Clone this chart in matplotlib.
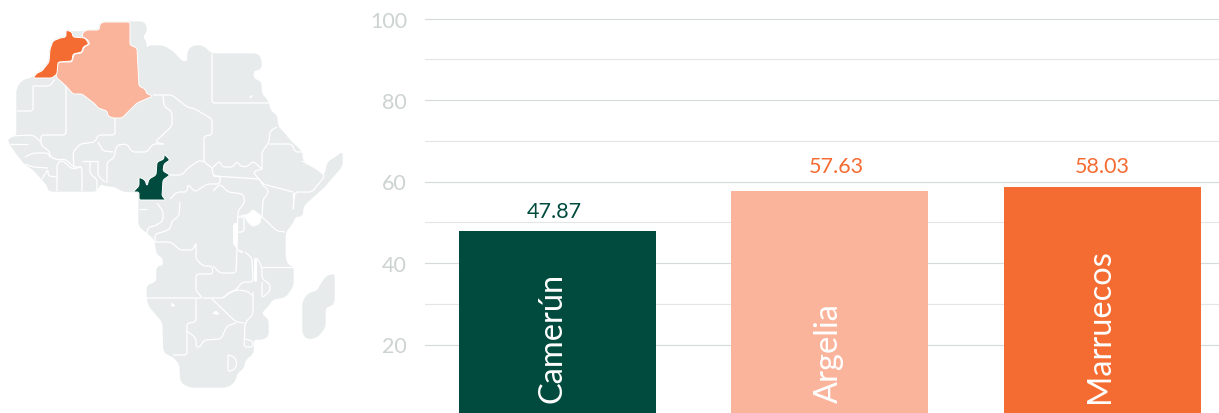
#!/usr/bin/env python3
# -*- coding: utf-8 -*-
import matplotlib
matplotlib.use("Agg")
import matplotlib.pyplot as plt
import numpy as np
from matplotlib.patches import PathPatch
from matplotlib.path import Path

# Bars, heights, labels as printed
countries = ["Camerún", "Argelia", "Marruecos"]
values = [47.8, 57.75, 58.75]
value_labels = ["47.87", "57.63", "58.03"]
major_ticks = [20, 40, 60, 80, 100]
minor_ticks = [30, 50, 70, 90]

GREEN = "#004b3d"
SALMON = "#fbb49c"
ORANGE = "#f56c33"
LAND = "#e8ebeb"
GRID = "#d5dbda"
GRID_MINOR = "#e2e6e5"
TICK = "#ccd3d1"

# Map outlines in pixels
land = [
    (33, 79), (37, 74), (42, 72), (49, 63), (50, 50), (53, 42), (60, 39), (66, 38), (66, 31), (72, 33),
    (82, 33), (87, 31), (99, 31), (100, 25), (103, 23), (143, 23), (146, 27), (146, 33), (142, 38), (146, 43),
    (146, 52), (148, 47), (163, 47), (173, 53), (182, 63), (188, 63), (188, 52), (193, 47), (203, 47), (210, 54),
    (213, 55), (257, 55), (261, 60), (261, 70), (253, 71), (253, 80), (261, 83), (261, 95), (268, 102), (270, 112),
    (277, 117), (277, 127), (283, 133), (290, 142), (302, 153), (302, 162), (325, 177), (328, 163), (337, 158), (342, 153),
    (342, 167), (328, 183), (325, 187), (308, 202), (303, 207), (302, 217), (295, 217), (293, 223), (285, 233), (285, 260),
    (288, 267), (293, 268), (293, 287), (285, 298), (272, 300), (268, 307), (262, 312), (262, 317), (268, 320), (268, 337),
    (263, 340), (253, 340), (253, 355), (245, 360), (243, 370), (237, 373), (235, 382), (227, 388), (190, 388), (181, 383),
    (180, 365), (173, 357), (167, 355), (164, 352), (163, 323), (156, 315), (148, 305), (147, 287), (157, 283), (157, 268),
    (164, 267), (163, 258), (157, 255), (155, 240), (139, 227), (139, 193), (122, 192), (115, 187), (107, 187), (100, 184),
    (97, 192), (49, 192), (48, 187), (42, 180), (33, 170), (25, 165), (17, 155), (9, 143), (9, 140), (17, 137),
    (17, 90), (22, 82),
]
madagascar = [
    (333, 276), (327, 277), (320, 287), (318, 292), (308, 295), (303, 303), (303, 335), (308, 340), (317, 338), (325, 328),
    (325, 308), (332, 306), (334, 302), (334, 276),
]
morocco = [
    (33, 79), (37, 74), (42, 72), (49, 63), (50, 50), (53, 42), (60, 39), (66, 38), (66, 31), (72, 33),
    (73, 38), (85, 39), (89, 45), (83, 48), (82, 53), (73, 55), (72, 62), (58, 63), (57, 75), (52, 79),
]
algeria = [
    (100, 25), (103, 23), (130, 23), (130, 46), (137, 49), (139, 87), (145, 90), (147, 95), (153, 97), (137, 104),
    (122, 119), (113, 119), (108, 117), (107, 112), (98, 109), (95, 105), (82, 95), (73, 95), (66, 87), (56, 78),
    (58, 63), (72, 63), (74, 55), (82, 54), (84, 48), (90, 45), (87, 40), (82, 38), (83, 33), (87, 31),
    (99, 31),
]
cameroon = [
    (164, 155), (170, 161), (164, 165), (163, 172), (170, 176), (163, 181), (162, 197), (166, 201), (139, 201), (139, 193),
    (133, 193), (139, 187), (139, 178), (145, 181), (147, 187), (149, 180), (156, 176), (157, 163), (164, 160),
]
lakes = [
    [(238, 217), (248, 215), (253, 210), (262, 217), (260, 225), (253, 228), (247, 223), (245, 218)],
    [(233, 225), (237, 223), (237, 250), (245, 253), (240, 254), (233, 245)],
    [(254, 259), (257, 259), (257, 283), (254, 283)],
    [(171, 303), (176, 307), (171, 308)],
    [(212, 315), (216, 311), (220, 316)],
    [(248, 99), (253, 95), (252, 99)],
]
borders = [
    [(212, 55), (212, 104), (269, 104)],
    [(153, 96), (172, 96), (187, 108), (195, 110), (212, 120), (212, 136), (204, 137), (204, 163), (212, 169)],
    [(163, 96), (164, 107), (172, 113), (172, 127), (155, 143), (163, 145)],
    [(212, 169), (220, 162), (222, 168), (233, 168), (237, 162), (240, 167), (247, 168), (253, 162), (262, 170)],
    [(277, 128), (270, 132), (269, 143), (262, 153), (262, 170)],
    [(269, 145), (292, 145), (295, 153), (302, 153)],
    [(302, 162), (317, 170), (325, 177), (312, 193), (295, 193), (293, 210)],
    [(262, 170), (253, 173), (263, 185), (293, 193)],
    [(33, 87), (33, 112), (17, 112)],
    [(33, 87), (50, 87), (55, 80)],
    [(66, 87), (66, 136), (41, 136), (41, 146), (50, 153), (50, 158), (58, 161), (65, 160), (74, 168)],
    [(10, 137), (33, 136), (41, 143)],
    [(10, 145), (28, 145)],
    [(115, 119), (115, 136), (98, 136), (95, 143), (80, 145), (73, 153), (74, 168)],
    [(98, 143), (103, 152), (113, 153)],
    [(115, 153), (117, 146), (127, 145), (132, 153), (147, 153), (153, 145), (164, 145)],
    [(74, 168), (82, 168), (82, 192)],
    [(82, 162), (98, 162)],
    [(90, 162), (90, 175), (97, 180), (97, 192)],
    [(98, 162), (98, 177), (105, 183)],
    [(107, 184), (107, 163), (114, 159), (115, 153)],
    [(57, 192), (57, 165), (62, 161), (72, 170), (82, 168)],
    [(42, 180), (48, 170), (48, 177), (57, 178)],
    [(25, 165), (33, 168), (48, 169)],
    [(25, 158), (33, 154), (48, 154), (50, 158)],
    [(170, 176), (182, 176), (188, 169), (200, 161), (204, 163)],
    [(212, 169), (213, 177), (220, 177), (220, 185), (207, 185), (195, 193), (188, 185), (187, 193), (177, 193), (170, 200)],
    [(213, 177), (260, 180), (263, 187), (268, 190), (268, 195), (263, 200), (262, 218)],
    [(213, 192), (220, 185), (228, 193), (243, 195), (245, 203), (238, 212), (237, 250)],
    [(293, 193), (293, 210)],
    [(139, 210), (147, 210)],
    [(157, 204), (163, 212), (163, 222), (155, 227), (148, 228), (147, 235)],
    [(180, 203), (179, 217), (172, 222), (170, 230), (163, 233), (155, 235), (155, 243)],
    [(155, 243), (171, 243), (180, 251), (193, 251), (196, 243), (196, 260), (203, 267), (212, 267), (213, 275), (196, 275), (196, 292), (203, 299), (147, 299)],
    [(213, 267), (220, 274), (236, 274), (237, 250)],
    [(245, 253), (252, 259), (253, 283), (242, 283), (237, 290), (228, 295), (223, 299), (203, 299)],
    [(262, 268), (293, 268)],
    [(257, 259), (262, 268), (262, 280), (270, 285), (270, 292), (262, 299), (262, 283)],
    [(262, 218), (277, 232), (285, 233)],
    [(237, 218), (244, 218), (244, 233), (237, 233)],
    [(196, 300), (196, 323), (187, 324), (187, 356), (173, 356)],
    [(212, 300), (236, 323), (244, 324)],
    [(236, 324), (227, 327), (221, 340), (204, 341), (200, 348), (196, 348), (196, 339), (187, 332)],
    [(253, 293), (253, 315), (245, 324), (244, 348), (253, 348), (253, 342), (245, 340)],
    [(223, 299), (230, 293), (237, 291), (247, 292), (253, 297)],
    [(228, 356), (235, 358), (237, 365), (235, 370), (228, 373), (228, 356)],
]


def rounded(points, radius=4.0, closed=True):
    # Round every corner with a quadratic curve, the map has soft corners
    pts = [np.array(p, dtype=float) for p in points]
    n = len(pts)
    verts, codes = [], []
    idx = range(n) if closed else range(1, n - 1)
    if not closed:
        verts.append(pts[0])
        codes.append(Path.MOVETO)
    for i in idx:
        prev, cur, nxt = pts[i - 1], pts[i], pts[(i + 1) % n]
        d1 = np.linalg.norm(prev - cur)
        d2 = np.linalg.norm(nxt - cur)
        a = cur + (prev - cur) * min(radius, d1 / 2) / d1
        b = cur + (nxt - cur) * min(radius, d2 / 2) / d2
        verts.append(a)
        codes.append(Path.LINETO if verts[1:] or not closed else Path.MOVETO)
        verts.extend([cur, b])
        codes.extend([Path.CURVE3, Path.CURVE3])
    if closed:
        verts.append(verts[0])
        codes.append(Path.CLOSEPOLY)
    else:
        verts.append(pts[-1])
        codes.append(Path.LINETO)
    return Path(verts, codes)


def main():
    plt.rcParams["font.family"] = ["Lato", "DejaVu Sans"]
    fig = plt.figure(figsize=(12.19, 4.14), dpi=100)

    # Map uses the picture's own pixels as coordinates
    ax_map = fig.add_axes([0, 0, 1, 1])
    ax_map.set_xlim(0, 1219)
    ax_map.set_ylim(414, 0)
    ax_map.axis("off")
    for shape in (land, madagascar):
        ax_map.add_patch(PathPatch(rounded(shape), facecolor=LAND, edgecolor=LAND, lw=1.0))
    for line in borders:
        ax_map.add_patch(PathPatch(rounded(line, radius=3, closed=False), facecolor="none",
                                   edgecolor="white", lw=0.9))
    for shape in lakes:
        ax_map.add_patch(PathPatch(rounded(shape, radius=2), facecolor="white", edgecolor="none"))
    for shape, color in ((algeria, SALMON), (morocco, ORANGE), (cameroon, GREEN)):
        ax_map.add_patch(PathPatch(rounded(shape, radius=2), facecolor=color, edgecolor="white", lw=0.7))

    # Bars, zero lies below the picture's edge so the bottom is cut off
    ax = fig.add_axes([425 / 1219, -13 / 414, 794 / 1219, 407.5 / 414])
    ax.patch.set_alpha(0)
    positions = range(len(countries))
    colors = [GREEN, SALMON, ORANGE]
    bars = ax.bar(positions, values, width=0.723, color=colors, zorder=3)
    ax.set_xlim(-0.4863, 2.428)
    ax.set_ylim(0, 100)
    ax.set_xticks([])
    ax.set_yticks(major_ticks)
    ax.set_yticks(minor_ticks, minor=True)
    ax.set_yticklabels([str(t) for t in major_ticks])
    ax.tick_params(axis="y", which="both", length=0, pad=13, labelsize=15.5, labelcolor=TICK)
    ax.grid(axis="y", which="major", color=GRID, lw=0.85, zorder=0, clip_on=False)
    ax.grid(axis="y", which="minor", color=GRID_MINOR, lw=0.85, zorder=0)
    for spine in ax.spines.values():
        spine.set_visible(False)

    label_colors = [GREEN, ORANGE, ORANGE]
    # Printed labels do not sit quite centred in the original
    value_shift = [(-2, 7.5), (4.5, 10.5), (0, 7.5)]
    name_shift = [(3, 17), (6, 17), (4.7, 17)]
    for bar, name, text, color, shift, name_pos in zip(bars, countries, value_labels, label_colors,
                                                       value_shift, name_shift):
        x = bar.get_x() + bar.get_width() / 2
        ax.annotate(text, (x, bar.get_height()), xytext=shift, textcoords="offset points",
                    ha="center", va="bottom", fontsize=15.5, color=color, zorder=4)
        ax.annotate(name, (x, 0), xytext=name_pos, textcoords="offset points", rotation=90,
                    rotation_mode="anchor", ha="left", va="baseline", fontsize=23.5, color="white", zorder=4)

    fig.savefig("out.png", dpi=100)


if __name__ == "__main__":
    main()
